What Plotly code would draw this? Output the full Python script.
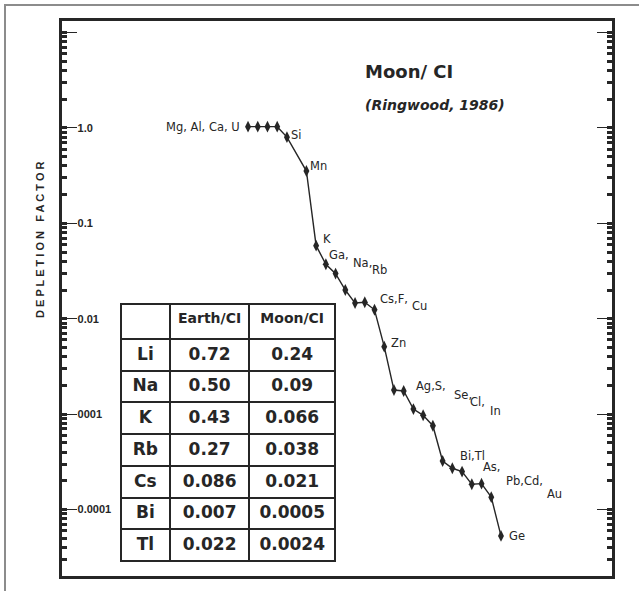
import math
import plotly.graph_objects as go

# ---------------- data ----------------
elements = ["Mg", "Al", "Ca", "U", "Si", "Mn", "K", "Ga", "Na", "Rb", "Cs", "F", "Cu",
            "Zn", "Ag", "S", "Se", "Cl", "In", "Bi", "Tl", "As", "Pb", "Cd", "Au", "Ge"]
order = [0, 1, 2, 3, 4, 6, 7, 8, 9, 10, 11, 12, 13, 14, 15, 16, 17, 18, 19, 20,
         21, 22, 23, 24, 25, 26]
depletion = [1.03, 1.03, 1.03, 1.03, 0.80, 0.353, 0.0583, 0.0372, 0.0297, 0.0200,
             0.0146, 0.0149, 0.0124, 0.00510, 0.00179, 0.00175, 0.00113, 0.000973,
             0.000757, 0.000323, 0.000271, 0.000250, 0.000184, 0.000187, 0.000135,
             0.0000530]

tick_values = [10, 1, 0.1, 0.01, 0.001, 0.0001]
tick_labels = ["", "1.0", "0.1", "0.01", "0001", "0.0001"]

table_header = ["", "Earth/CI", "Moon/CI"]
table_elements = ["Li", "Na", "K", "Rb", "Cs", "Bi", "Tl"]
table_earth = ["0.72", "0.50", "0.43", "0.27", "0.086", "0.007", "0.022"]
table_moon = ["0.24", "0.09", "0.066", "0.038", "0.021", "0.0005", "0.0024"]

# ---------------- layout helpers ----------------
W, H = 639, 591
ML, MR, MT, MB = 62, 27, 21, 15
PW, PH = W - ML - MR, H - MT - MB


def px_x(px):
    return (px - ML) / PW


def px_y(py):
    return 1 - (py - MT) / PH


INK = "#262626"
idx = {e: i for i, e in enumerate(elements)}

fig = go.Figure()

fig.add_trace(go.Scatter(
    x=order, y=depletion, mode="lines+markers",
    line=dict(color=INK, width=1.4),
    marker=dict(symbol="diamond-tall", size=8.5, color=INK),
    hoverinfo="skip", showlegend=False))

# invisible trace to activate the right-hand mirror axis
fig.add_trace(go.Scatter(
    x=order, y=depletion, yaxis="y2", mode="markers",
    marker=dict(opacity=0), hoverinfo="skip", showlegend=False))

fig.add_trace(go.Table(
    domain=dict(x=[px_x(121), px_x(336)], y=[px_y(563), px_y(304)]),
    columnwidth=[49, 80, 86],
    header=dict(values=table_header, height=35, align="center",
                fill_color="white", line=dict(color=INK, width=2),
                font=dict(family="DejaVu Sans", size=14, color=INK, weight="bold")),
    cells=dict(values=[table_elements, table_earth, table_moon], height=31.7,
               align="center", fill_color="white", line=dict(color=INK, width=2),
               font=dict(family="DejaVu Sans", size=17, color=INK, weight="bold"))))

# ---------------- point labels ----------------
labels = [
    ("Mg, Al, Ca, U", "Mg", -7, 0, "right"),
    ("Si", "Si", 3, 2, "left"),
    ("Mn", "Mn", 3, 5, "left"),
    ("K", "K", 6, 7, "left"),
    ("Ga,", "Ga", 2, 9, "left"),
    ("Na,", "Na", 16, 11, "left"),
    ("Rb", "Rb", 26, 20, "left"),
    ("Cs,F,", "Cs", 24, 4, "left"),
    ("Cu", "Cu", 36, 4, "left"),
    ("Zn", "Zn", 6, 4, "left"),
    ("Ag,S,", "Ag", 21, 4, "left"),
    ("Se,", "Se", 40, 14, "left"),
    ("Cl,", "Cl", 46, 13, "left"),
    ("In", "In", 56, 15, "left"),
    ("Bi,Tl", "Bi", 16, 5, "left"),
    ("As,", "As", 20, 5, "left"),
    ("Pb,Cd,", "Pb", 33, 3, "left"),
    ("Au", "Au", 55, 3, "left"),
    ("Ge", "Ge", 7, 0, "left"),
]
annotations = []
for text, el, dx, dy, anchor in labels:
    i = idx[el]
    annotations.append(dict(
        x=order[i], y=math.log10(depletion[i]), xref="x", yref="y",
        text=text, showarrow=False, xanchor=anchor, yanchor="middle",
        xshift=dx, yshift=dy, borderpad=0,
        font=dict(family="DejaVu Sans", size=11.5, color=INK)))

annotations += [
    dict(x=px_x(409), y=px_y(72), xref="paper", yref="paper", text="Moon/ CI",
         xanchor="center", yanchor="middle", showarrow=False,
         font=dict(family="DejaVu Sans", size=18, color=INK, weight="bold")),
    dict(x=px_x(435), y=px_y(105), xref="paper", yref="paper", text="(Ringwood, 1986)",
         xanchor="center", yanchor="middle", showarrow=False,
         font=dict(family="DejaVu Sans", size=14, color=INK,
                   weight="bold", style="italic")),
    dict(x=px_x(40), y=px_y(240), xref="paper", yref="paper",
         text="D E P L E T I O N   F A C T O R", textangle=-90, showarrow=False,
         xanchor="center", yanchor="middle",
         font=dict(family="Liberation Sans", size=11, color=INK, weight="bold")),
]

shapes = [
    dict(type="line", xref="paper", yref="paper", x0=px_x(4), x1=px_x(639),
         y0=px_y(5), y1=px_y(5), line=dict(color="#8c8c8c", width=2)),
    dict(type="line", xref="paper", yref="paper", x0=px_x(5), x1=px_x(5),
         y0=px_y(4), y1=px_y(591), line=dict(color="#8c8c8c", width=2)),
]

yrange = [-4.696, 1.120]
common_y = dict(type="log", range=yrange, showgrid=False, zeroline=False,
                tickmode="array", tickvals=tick_values, ticks="inside",
                ticklen=15, tickwidth=1, tickcolor=INK,
                minor=dict(ticks="inside", ticklen=5, tickwidth=3, tickcolor=INK,
                           dtick="D1", showgrid=False))

fig.update_layout(
    width=W, height=H, autosize=False,
    margin=dict(l=ML, r=MR, t=MT, b=MB, pad=0),
    paper_bgcolor="white", plot_bgcolor="white",
    showlegend=False,
    xaxis=dict(range=[-19.12, 37.41], showgrid=False, zeroline=False,
               showticklabels=False, ticks="", showline=True, mirror=True,
               linecolor=INK, linewidth=3),
    yaxis=dict(**common_y, ticktext=tick_labels, ticklabelposition="inside",
               showline=True, linecolor=INK, linewidth=2.5,
               tickfont=dict(family="Liberation Sans", size=11, color=INK, weight="bold")),
    yaxis2=dict(**common_y, overlaying="y", side="right", showticklabels=False,
                showline=True, linecolor=INK, linewidth=2.5),
    annotations=annotations,
    shapes=shapes,
)

fig.write_html("out.html", config={"displayModeBar": False},
               post_script="document.body.style.margin='0px';document.body.style.overflow='hidden';")
